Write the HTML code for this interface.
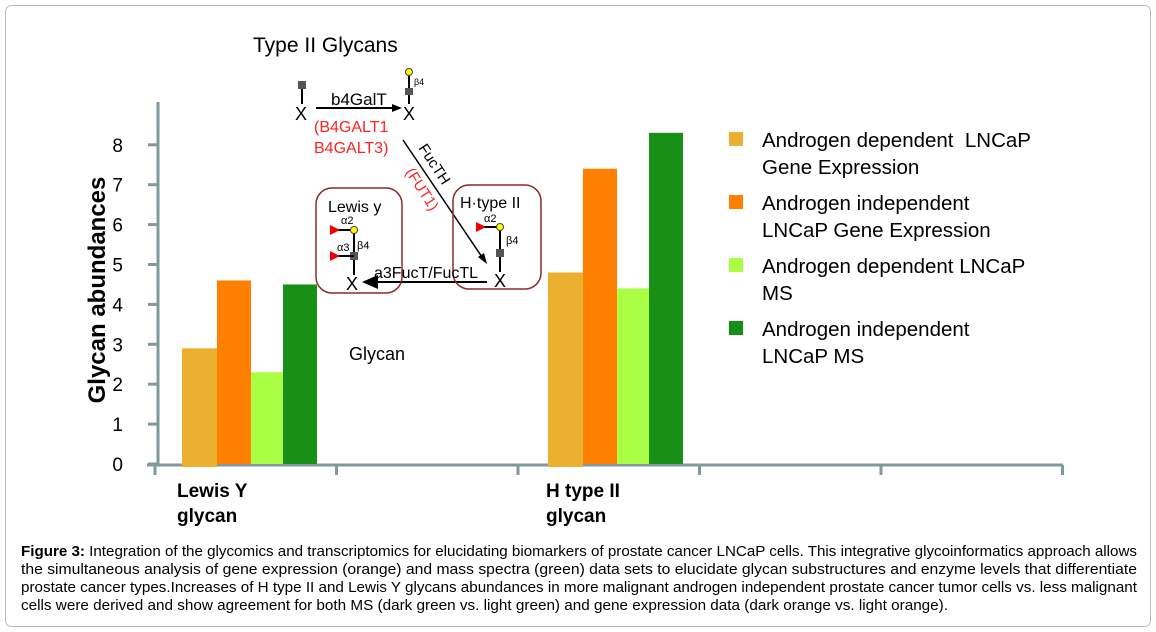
<!DOCTYPE html>
<html><head><meta charset="utf-8"><style>
html,body{margin:0;padding:0;background:#fff}
svg{display:block;font-family:"Liberation Sans",Arial,sans-serif}
</style></head><body>
<svg width="1156" height="632" viewBox="0 0 1156 632">
<rect x="5.5" y="5.5" width="1145" height="621" rx="6" fill="#fff" stroke="#bbb"/>
<g id="axes"></g>
<g id="bars"></g>
<text x="253" y="52" font-size="21">Type II Glycans</text>
<text x="349" y="360" font-size="18">Glycan</text>
<text transform="translate(105,290) rotate(-90)" text-anchor="middle" font-size="24" font-weight="bold">Glycan abundances</text>
<g font-size="19" font-weight="bold">
<text x="177" y="497">Lewis Y</text><text x="177" y="522">glycan</text>
<text x="546" y="497">H type II</text><text x="546" y="522">glycan</text>
</g>
<g id="legend" font-size="20.5"></g>
<g stroke="#000" stroke-width="2">
 <line x1="302" y1="88" x2="302" y2="104"/><rect x="298" y="81" width="8" height="8" fill="#555" stroke="none"/>
 <line x1="409" y1="75" x2="409" y2="104"/><rect x="405" y="88" width="8" height="7" fill="#555" stroke="none"/>
 <circle cx="409" cy="72" r="3.5" fill="#ff0" stroke="#444" stroke-width="1"/>
 <line x1="316" y1="108" x2="398" y2="108"/><polygon points="402,108 392,104 392,112" fill="#000" stroke="none"/>
 <line x1="403" y1="140" x2="484" y2="260" stroke-width="1.5"/><polygon points="487,264 478,257 484,253" fill="#000" stroke="none"/>
 <line x1="487" y1="282" x2="375" y2="282"/><polygon points="362,282 378,275 378,289" fill="#000" stroke="none"/>
 <rect x="316" y="188" width="86" height="105" rx="16" fill="none" stroke="#8b2a2a" stroke-width="1.5"/>
 <rect x="453" y="185" width="88" height="104" rx="16" fill="none" stroke="#8b2a2a" stroke-width="1.5"/>
 <line x1="354" y1="230" x2="354" y2="275"/><rect x="350" y="252" width="8" height="8" fill="#555" stroke="none"/>
 <line x1="336" y1="230" x2="354" y2="230"/><line x1="336" y1="256" x2="354" y2="256"/>
 <polygon points="330,225 340,230 330,235" fill="#e00" stroke="none"/><polygon points="330,251 340,256 330,261" fill="#e00" stroke="none"/>
 <circle cx="354" cy="230" r="3.5" fill="#ff0" stroke="#444" stroke-width="1"/>
 <line x1="500" y1="227" x2="500" y2="272"/><rect x="496" y="249" width="8" height="8" fill="#555" stroke="none"/>
 <line x1="482" y1="227" x2="500" y2="227"/><polygon points="476,222 486,227 476,232" fill="#e00" stroke="none"/>
 <circle cx="500" cy="227" r="3.5" fill="#ff0" stroke="#444" stroke-width="1"/>
</g>
<g>
 <text x="295" y="120" font-size="18">X</text><text x="403" y="120" font-size="18">X</text>
 <text x="414" y="85" font-size="9">β4</text>
 <text x="331" y="105" font-size="17">b4GalT</text>
 <text x="314" y="132" font-size="16" fill="#f22">(B4GALT1</text>
 <text x="314" y="153" font-size="16" fill="#f22">B4GALT3)</text>
 <text transform="translate(418,148) rotate(57)" font-size="15">FucTH</text>
 <text transform="translate(405,172) rotate(57)" font-size="15" fill="#f22">(FUT1)</text>
 <text x="328" y="212" font-size="16">Lewis y</text>
 <text x="460" y="208" font-size="16">H·type II</text>
 <text x="341" y="224" font-size="11">α2</text><text x="337" y="251" font-size="11">α3</text><text x="357" y="249" font-size="11">β4</text>
 <text x="484" y="222" font-size="11">α2</text><text x="506" y="244" font-size="11">β4</text>
 <text x="374" y="278" font-size="16">a3FucT/FucTL</text>
 <text x="346" y="290" font-size="18">X</text><text x="494" y="287" font-size="18">X</text>
</g>
<text id="caption" font-size="14.5">
 <tspan x="21" y="556" textLength="1116" lengthAdjust="spacingAndGlyphs"><tspan font-weight="bold">Figure 3:</tspan> Integration of the glycomics and transcriptomics for elucidating biomarkers of prostate cancer LNCaP cells. This integrative glycoinformatics approach allows</tspan>
 <tspan x="21" y="574" textLength="1116" lengthAdjust="spacingAndGlyphs">the simultaneous analysis of gene expression (orange) and mass spectra (green) data sets to elucidate glycan substructures and enzyme levels that differentiate</tspan>
 <tspan x="21" y="592" textLength="1116" lengthAdjust="spacingAndGlyphs">prostate cancer types.Increases of H type II and Lewis Y glycans abundances in more malignant androgen independent prostate cancer tumor cells vs. less malignant</tspan>
 <tspan x="21" y="610" textLength="927" lengthAdjust="spacingAndGlyphs">cells were derived and show agreement for both MS (dark green vs. light green) and gene expression data (dark orange vs. light orange).</tspan>
</text>
</svg>
<script>
const categories = ["Lewis Y glycan", "H type II glycan"];
const seriesNames = ["Androgen dependent  LNCaP|Gene Expression", "Androgen independent|LNCaP Gene Expression", "Androgen dependent LNCaP|MS", "Androgen independent|LNCaP MS"];
const depGene = [2.9, 4.8];
const indepGene = [4.6, 7.4];
const depMS = [2.3, 4.4];
const indepMS = [4.5, 8.3];
const yTicks = [0, 1, 2, 3, 4, 5, 6, 7, 8];

const NS = "http://www.w3.org/2000/svg";
const colors = ["#ebb030", "#ff8000", "#aaff44", "#189018"];
const series = [depGene, indepGene, depMS, indepMS];
const y0 = 464, unit = 39.9, ax = 158;
const yScale = v => y0 - v * unit;
const catX = i => 182 + i * 366;
const barW = [35, 34, 32, 34];
function el(tag, attrs, parent) { const e = document.createElementNS(NS, tag); for (const k in attrs) e.setAttribute(k, attrs[k]); parent.appendChild(e); return e; }
const axes = document.getElementById('axes');
const bars = document.getElementById('bars');
const axisCol = "#7f999c";
const yl = el('line', {x1: ax, y1: 102, x2: ax, y2: 466, stroke: axisCol, 'stroke-width': 3}, axes);


const xl = el('line', {x1: 147, y1: 465, x2: 1063, y2: 465, stroke: axisCol, 'stroke-width': 3}, axes);


for (let i = 0; i < 6; i++) {
  const tx = 155 + i * 181.5;
  const t = el('line', {x1: tx, y1: 465, x2: tx, y2: 475, stroke: axisCol, 'stroke-width': 3}, axes);
  
  
}
yTicks.forEach(v => {
  const y = yScale(v);
  const t = el('line', {x1: 148, y1: y, x2: ax, y2: y, stroke: axisCol, 'stroke-width': 3}, axes);
  
  
  const lb = el('text', {x: 123, y: y + 7, 'text-anchor': 'end', 'font-size': 19}, axes);
  lb.textContent = v;
  
  
});
categories.forEach((c, ci) => {
  let x = catX(ci);
  series.forEach((s, si) => {
    const y = yScale(s[ci]);
    const h = y0 - y + (si === 0 ? 3 : 0);
    const r = el('rect', {x: x, y: y, width: barW[si], height: h, fill: colors[si]}, bars);
    
    
    x += barW[si];
  });
});
const lg = document.getElementById('legend');
seriesNames.forEach((n, i) => {
  const by = 147 + i * 63;
  const sw = el('rect', {x: 729, y: by - 15, width: 14, height: 14, fill: colors[i]}, lg);
  
  
  n.split('|').forEach((ln, j) => {
    const t = el('text', {x: 762, y: by + j * 27}, lg);
    t.setAttribute('xml:space', 'preserve');
    t.style.whiteSpace = 'pre';
    t.textContent = ln;
    
    
  });
});
</script>
</body></html>
